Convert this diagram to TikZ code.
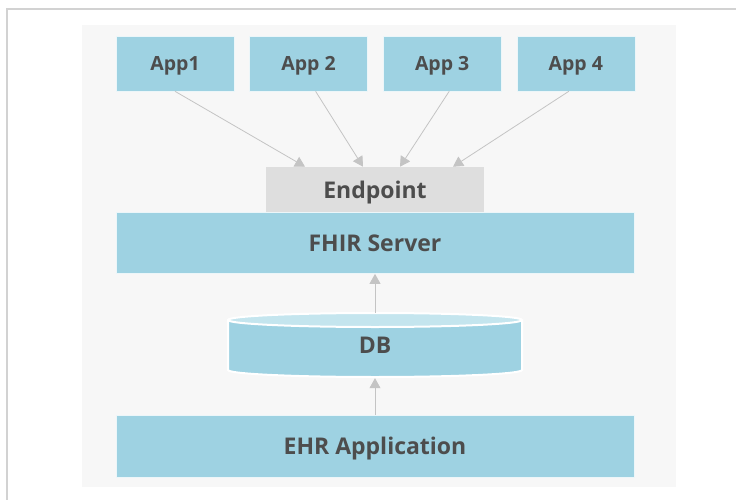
\documentclass[tikz,border=0pt]{standalone}
\usepackage{fontspec}
\setmainfont{Open Sans}
\usepackage{xcolor}
\usetikzlibrary{arrows.meta, positioning, calc}

\definecolor{boxblue}{HTML}{9ED2E2}
\definecolor{dbtop}{HTML}{C4E5EE}
\definecolor{epgray}{HTML}{DEDEDE}
\definecolor{panelgray}{HTML}{F7F7F7}
\definecolor{framegray}{HTML}{D2D2D2}
\definecolor{linkgray}{HTML}{C4C4C4}
\definecolor{textgray}{HTML}{4D4D4D}

\begin{document}
\begin{tikzpicture}[
        x=1pt, y=-1pt,
        block/.style={rectangle, fill=boxblue, draw=white!80!boxblue, line width=0.6pt, text=textgray, font=\fontsize{23}{27}\selectfont\bfseries, align=center, text depth=0pt},
        appbox/.style={block, minimum width=118pt, minimum height=55pt, font=\fontsize{19.5}{23}\selectfont\bfseries},
        wide/.style={block, minimum width=518pt, minimum height=61pt},
        arrow/.style={-{Triangle[length=10pt, width=11pt]}, draw=linkgray, line width=0.8pt}
    ]
        \useasboundingbox (0,0) rectangle (736,500);
        % frame and panel
        \draw[framegray, line width=1.5pt] (7,500) -- (7,9) -- (736,9);
        \fill[panelgray] (82,25) rectangle (676,487);

        % top row: apps
        \node[appbox] (app1) at (175,63.5) {App1};
        \node[appbox, right=15pt of app1] (app2) {App 2};
        \node[appbox, right=15pt of app2] (app3) {App 3};
        \node[appbox, right=15pt of app3] (app4) {App 4};

        % server
        \node[block, fill=epgray, draw=none, minimum width=218pt, minimum height=45pt] (endpoint) at (375,189.5) {Endpoint};
        \node[wide, below=0pt of endpoint] (fhir) {FHIR Server};

        % database
        \fill[boxblue, draw=white, line width=2pt] (228,320) -- (228,370) arc[start angle=180, end angle=360, x radius=147, y radius=-7] -- (522,320) -- cycle;
        \filldraw[fill=dbtop, draw=white, line width=2pt] (375,320) ellipse[x radius=147, y radius=7];
        \node[rectangle, minimum width=294pt, minimum height=64pt, text=textgray, font=\fontsize{23}{27}\selectfont\bfseries, inner sep=0pt] (db) at (375,345) {\raisebox{-8pt}{DB}};

        \node[wide, minimum height=62pt] (ehr) at (375,446) {EHR Application};

        % links
        \draw[arrow] (app1.south) -- ([xshift=-70pt]endpoint.north);
        \draw[arrow] ([xshift=7pt]app2.south) -- ([xshift=-12pt]endpoint.north);
        \draw[arrow] ([xshift=7pt]app3.south) -- ([xshift=25pt]endpoint.north);
        \draw[arrow] ([xshift=-7pt]app4.south) -- ([xshift=78pt]endpoint.north);
        \draw[arrow] (db.north) -- (fhir.south);
        \draw[arrow] (ehr.north) -- ([yshift=-1pt]db.south);
    \end{tikzpicture}
\end{document}
